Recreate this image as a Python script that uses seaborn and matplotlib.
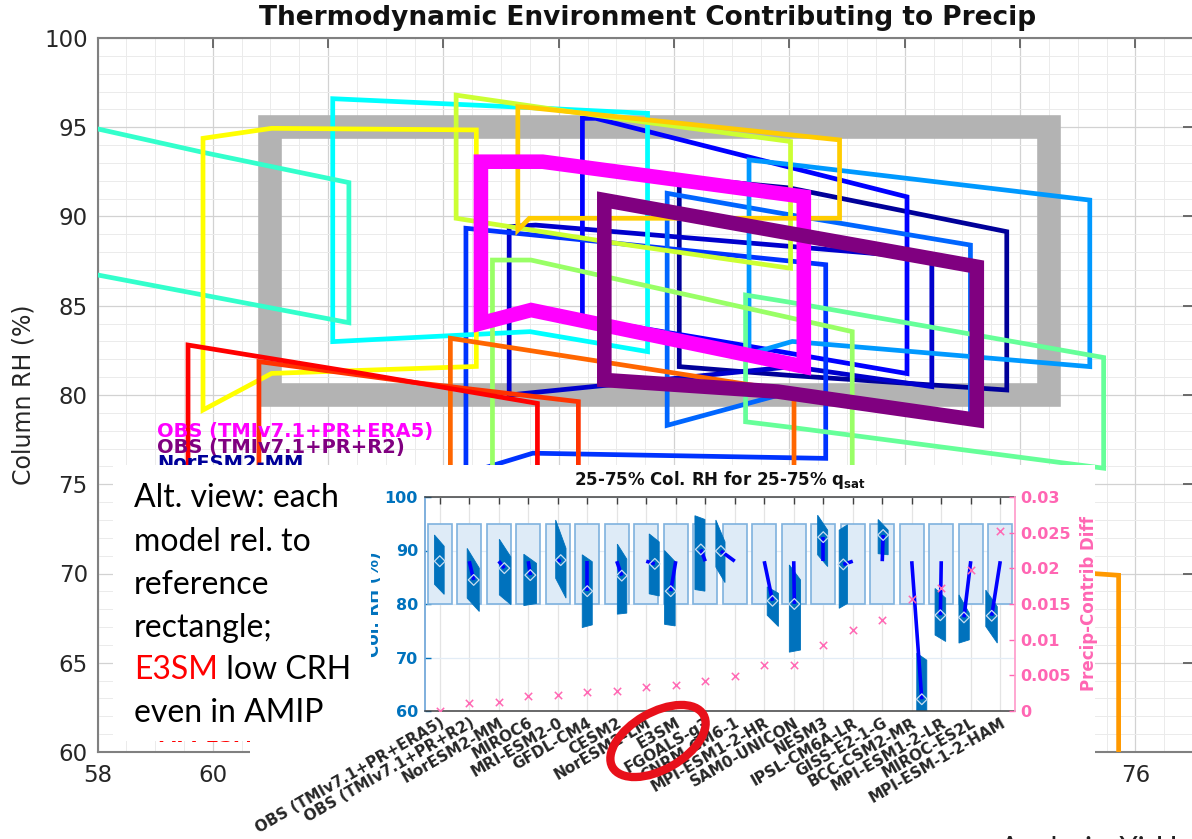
import matplotlib
matplotlib.use("Agg")
import matplotlib.pyplot as plt
import matplotlib.transforms as mtransforms
import numpy as np
import pandas as pd
import seaborn as sns
from matplotlib.patches import Rectangle, Ellipse, Polygon
from matplotlib.ticker import MultipleLocator, FixedLocator, FixedFormatter

# ---------------------------------------------------------------- names / colours
obs_names = ["OBS (TMIv7.1+PR+ERA5)", "OBS (TMIv7.1+PR+R2)"]
model_names = ["NorESM2-MM", "MIROC6", "MRI-ESM2-0", "GFDL-CM4", "CESM2",
               "NorESM2-LM", "E3SM", "FGOALS-g3", "CNRM-CM6-1", "MPI-ESM1-2-HR",
               "SAM0-UNICON", "NESM3", "IPSL-CM6A-LR", "GISS-E2-1-G",
               "BCC-CSM2-MR", "MPI-ESM1-2-LR", "MIROC-ES2L", "MPI-ESM-1-2-HAM"]
all_names = obs_names + model_names

obs_colors = [(1, 0, 1), (0.5, 0, 0.5)]
model_colors = [(0, 0, 0.6), (0, 0, 0.8), (0, 0, 1), (0, 0.2, 1), (0, 0.4, 1),
                (0, 0.6, 1), (0, 0.8, 1), (0, 1, 1), (0.2, 1, 0.8), (0.4, 1, 0.6),
                (0.6, 1, 0.4), (0.8, 1, 0.2), (1, 1, 0), (1, 0.8, 0), (1, 0.6, 0),
                (1, 0.4, 0), (1, 0.2, 0), (1, 0, 0)]
color_of = dict(zip(all_names, obs_colors + model_colors))

# legend rows that show above / below the note box
legend_rows = [0, 1, 2, 19]

# ---------------------------------------------------------------- reference rectangle
ref_q = [61.0, 74.5]      # q_sat 25-75 %
ref_rh = [80.0, 95.0]     # column RH 25-75 %

# ---------------------------------------------------------------- main-panel boxes
box_names = ["OBS (TMIv7.1+PR+ERA5)", "OBS (TMIv7.1+PR+R2)", "NorESM2-MM", "MIROC6",
             "MRI-ESM2-0", "GFDL-CM4", "CESM2", "NorESM2-LM", "FGOALS-g3",
             "CNRM-CM6-1", "MPI-ESM1-2-HR", "SAM0-UNICON", "NESM3", "IPSL-CM6A-LR",
             "GISS-E2-1-G", "BCC-CSM2-MR", "MPI-ESM1-2-LR", "MIROC-ES2L",
             "MPI-ESM-1-2-HAM"]
q_lo = [64.65, 66.79, 68.09, 65.14, 66.41, 64.39, 67.88, 69.30, 62.08, 56.90,
        69.24, 64.85, 64.22, 59.83, 65.29, 70.60, 64.12, 60.80, 59.57]
q_mid_top = [65.72, 69.80, 70.00, 65.60, 66.64, 67.00, 70.00, 70.05, 65.50, 59.82,
             70.00, 65.52, 67.00, 61.02, 65.50, 73.00, 66.36, 63.50, 62.60]
q_mid_bot = [65.52, 69.80, 70.00, 70.05, 69.00, 65.55, 70.05, 70.05, 65.50, 59.82,
             70.00, 65.52, 67.00, 61.02, 65.49, 73.00, 66.36, 63.50, 62.60]
q_hi = [70.25, 73.25, 73.77, 72.47, 72.04, 70.63, 73.14, 75.21, 67.54, 62.36,
        75.45, 71.09, 70.02, 64.57, 70.87, 75.71, 70.08, 66.34, 65.63]
rh_top_lo = [93.07, 90.92, 92.19, 89.43, 95.50, 89.34, 91.30, 93.17, 96.60, 95.70,
             85.60, 87.56, 96.80, 94.38, 96.15, 71.20, 83.18, 81.87, 82.80]
rh_top_mid = [93.07, 89.18, 91.60, 89.52, 95.50, 88.50, 90.10, 92.90, 96.10, 93.60,
              85.20, 87.56, 95.50, 94.94, 96.10, 70.50, 82.06, 80.70, 81.20]
rh_top_hi = [91.11, 87.19, 89.15, 87.66, 91.10, 87.30, 88.40, 90.92, 95.78, 91.90,
             82.10, 83.55, 94.20, 94.85, 94.29, 69.90, 80.19, 79.63, 79.53]
rh_bot_hi = [81.59, 78.60, 80.28, 80.47, 81.20, 76.45, 78.50, 81.59, 82.43, 84.05,
             75.90, 71.40, 87.10, 81.60, 89.90, 54.00, 73.00, 73.30, 72.70]
rh_bot_mid = [84.76, 80.19, 81.10, 81.59, 82.90, 76.74, 80.20, 83.00, 83.55, 85.61,
              78.20, 71.30, 88.50, 81.21, 89.90, 54.20, 73.70, 73.00, 74.30]
rh_bot_lo = [84.02, 80.84, 81.59, 80.00, 84.30, 75.60, 78.30, 82.30, 82.99, 87.40,
             78.50, 71.00, 89.90, 79.16, 89.24, 54.50, 74.20, 72.70, 75.80]

# ---------------------------------------------------------------- inset: boxes relative to the reference
q_per_slot = 16.9   # q_sat units per category slot
dx_lo = [-0.18, -0.07, 0.02, -0.15, -0.07, -0.17, 0.02, 0.10, -0.38, -0.35,
         -0.64, 0.10, -0.15, -0.19, -0.46, -0.14, 0.17, -0.21, -0.40, -0.49]
dx_hi = [0.15, 0.34, 0.41, 0.28, 0.28, 0.17, 0.34, 0.44, -0.02, -0.01,
         -0.33, 0.48, 0.23, 0.15, -0.18, 0.20, 0.51, 0.15, -0.05, -0.10]
crh_tl = [92.9, 90.4, 92.1, 89.3, 95.7, 89.2, 91.2, 93.1, 90.0, 96.5,
          95.7, 83.2, 87.3, 96.6, 93.8, 95.8, 70.8, 82.9, 81.7, 82.6]
crh_tr = [90.8, 86.7, 88.8, 87.6, 90.4, 87.9, 88.4, 91.6, 87.9, 95.8,
          91.6, 82.0, 84.5, 93.8, 94.8, 93.8, 69.5, 81.1, 78.3, 79.5]
crh_br = [81.8, 78.6, 79.9, 80.1, 81.1, 76.1, 78.3, 81.5, 75.9, 82.4,
          84.0, 75.8, 71.4, 87.0, 80.1, 89.2, 54.0, 73.0, 73.3, 72.7]
crh_bl = [83.7, 81.1, 81.7, 79.7, 84.8, 75.6, 78.1, 81.9, 76.2, 82.7,
          86.9, 77.9, 71.0, 89.2, 79.2, 89.4, 54.5, 74.2, 72.7, 75.8]
center_dx = [0.00, 0.15, 0.19, 0.07, 0.10, 0.00, 0.17, 0.29, -0.17, -0.15,
             -0.47, 0.28, 0.02, 0.00, -0.32, 0.03, 0.34, -0.03, -0.23, -0.29]
center_rh = [88.0, 84.5, 86.7, 85.4, 88.2, 82.4, 85.3, 87.5, 82.4, 90.2,
             89.9, 80.6, 80.0, 92.5, 87.4, 92.9, 62.2, 77.9, 77.5, 77.8]
precip_diff = [0.0, 0.0011, 0.0013, 0.0021, 0.0023, 0.0027, 0.0028, 0.0033,
               0.0037, 0.0042, 0.0049, 0.0064, 0.0065, 0.0092, 0.0113, 0.0127,
               0.0157, 0.0173, 0.0197, 0.0253]

# ---------------------------------------------------------------- figure
sns.set_theme(style="white")
plt.rcParams["font.family"] = ["DejaVu Sans"]

W, H = 1192, 839
fig = plt.figure(figsize=(W / 100, H / 100), dpi=100)
px = mtransforms.Affine2D().scale(1 / W, -1 / H).translate(0, 1) + fig.transFigure


def frame(x0, y0, x1, y1):
    return [x0 / W, 1 - y1 / H, (x1 - x0) / W, (y1 - y0) / H]


# ================================================================ main panel
ax = fig.add_axes(frame(97.5, 38, 1193, 752), zorder=0)
ax.set_xlim(58, 77)
ax.set_ylim(60, 100)
ax.xaxis.set_major_locator(MultipleLocator(2))
ax.xaxis.set_minor_locator(MultipleLocator(0.5))
ax.yaxis.set_major_locator(MultipleLocator(5))
ax.yaxis.set_minor_locator(MultipleLocator(1))
ax.grid(which="major", color="#d2d2d2", lw=0.9)
ax.grid(which="minor", color="#ebebeb", lw=0.7)
ax.set_axisbelow(True)
ax.tick_params(which="both", direction="in", top=True, right=True,
               color="#606060", labelcolor="#262626")
ax.tick_params(which="major", length=7, width=1.3, labelsize=16.5)
ax.tick_params(which="minor", length=0)
ax.tick_params(axis="x", pad=9)
ax.tick_params(axis="y", pad=7)
for s in ax.spines.values():
    s.set_color("#808080")
    s.set_linewidth(1.5)
# x labels that sit under the inset panel are left out
fig.canvas.draw()
for tick_val, lbl in zip(ax.get_xticks(), ax.get_xticklabels()):
    if 61 < tick_val < 75:
        lbl.set_visible(False)

# reference rectangle
ax.add_patch(Rectangle((ref_q[0], ref_rh[0]), ref_q[1] - ref_q[0], ref_rh[1] - ref_rh[0],
                       fill=False, ec="#b3b3b3", lw=17, joinstyle="miter", zorder=2))

# model / obs boxes
for k, name in enumerate(box_names):
    verts = [(q_lo[k], rh_bot_lo[k]), (q_lo[k], rh_top_lo[k]),
             (q_mid_top[k], rh_top_mid[k]), (q_hi[k], rh_top_hi[k]),
             (q_hi[k], rh_bot_hi[k]), (q_mid_bot[k], rh_bot_mid[k])]
    is_obs = name in obs_names
    ax.add_patch(Polygon(verts, closed=True, fill=False, ec=color_of[name],
                         lw=10.5 if is_obs else 3.4, joinstyle="miter",
                         zorder=4 if is_obs else 3))

# coloured legend text
for k in legend_rows:
    name = all_names[k]
    ax.text(157, 431 + 16.1 * k, name, transform=px, color=color_of[name],
            fontsize=14, fontweight="bold", va="center", ha="left", zorder=6)

fig.text(648, 18, "Thermodynamic Environment Contributing to Precip", transform=px,
         ha="center", va="center", fontsize=19, fontweight="bold", color="#111111")
fig.text(24, 395, "Column RH (%)", transform=px, rotation=90, ha="center",
         va="center", fontsize=17, color="#262626")

# ================================================================ white panel behind the inset
ov_bg = fig.add_axes([0, 0, 1, 1], zorder=1)
ov_bg.set_xlim(0, W)
ov_bg.set_ylim(H, 0)
ov_bg.axis("off")
ov_bg.add_patch(Rectangle((250, 465), 845, 380, fc="white", ec="none"))

# ================================================================ inset
cats = np.arange(1, len(all_names) + 1)
axi = fig.add_axes(frame(425, 497, 1015, 711), zorder=2)
axi.set_xlim(0.5, len(all_names) + 0.5)
axi.set_ylim(60, 100)
axi.set_yticks([60, 70, 80, 90, 100])
axi.set_xticks(cats)
axi.set_xticklabels(all_names, rotation=30, ha="right", rotation_mode="anchor",
                    fontsize=11, fontweight="bold", color="#262626")
axi.grid(axis="x", color="#e4e4e4", lw=0.9)
axi.grid(axis="y", color="#e2ecf6", lw=0.9)
axi.set_axisbelow(True)
axi.tick_params(axis="x", direction="in", top=True, length=5, width=1.0,
                color="#404040", pad=3)
axi.tick_params(axis="y", direction="in", length=4, width=1.0, color="#0072BD",
                labelcolor="#0072BD", labelsize=11.5, pad=5)
for lbl in axi.get_yticklabels():
    lbl.set_fontweight("bold")
axi.spines["left"].set_color("#6fa6d8")
axi.spines["right"].set_visible(False)
for side in ("top", "bottom"):
    axi.spines[side].set_color("#404040")
    axi.spines[side].set_linewidth(1.1)
axi.set_ylabel("Col. RH (%)", color="#0072BD", fontsize=12, fontweight="bold",
               labelpad=1)

half_slot = (ref_q[1] - ref_q[0]) / 2 / q_per_slot
for i in cats:
    axi.add_patch(Rectangle((i - half_slot, ref_rh[0]), 2 * half_slot,
                            ref_rh[1] - ref_rh[0], fc="#deebf7", ec="#7fb2de",
                            lw=1.2, zorder=1))
for k, i in enumerate(cats):
    verts = [(i + dx_lo[k], crh_bl[k]), (i + dx_lo[k], crh_tl[k]),
             (i + dx_hi[k], crh_tr[k]), (i + dx_hi[k], crh_br[k])]
    axi.add_patch(Polygon(verts, closed=True, fc="#0072BD", ec="#0072BD",
                          lw=0.6, zorder=2))
    if k > 0:
        axi.plot([i + center_dx[0], i + center_dx[k]], [center_rh[0], center_rh[k]],
                 color="blue", lw=2.6, solid_capstyle="butt", zorder=3)

centers = pd.DataFrame({"x": cats + np.array(center_dx), "rh": center_rh})
sns.scatterplot(data=centers, x="x", y="rh", ax=axi, marker="D", s=30,
                color="#0072BD", edgecolor="#c9def1", linewidth=0.9, zorder=4,
                legend=False)
axi.collections[-1].set_facecolor("none")
axi.set_xlabel("")

ax2 = axi.twinx()
ax2.set_zorder(2.2)
ax2.set_ylim(0, 0.03)
ax2.yaxis.set_major_locator(FixedLocator([0, 0.005, 0.01, 0.015, 0.02, 0.025, 0.03]))
ax2.yaxis.set_major_formatter(FixedFormatter(["0", "0.005", "0.01", "0.015", "0.02",
                                              "0.025", "0.03"]))
ax2.tick_params(axis="y", direction="in", length=4, width=1.0, color="#ff66b3",
                labelcolor="#ff66b3", labelsize=11.5, pad=4)
for lbl in ax2.get_yticklabels():
    lbl.set_fontweight("bold")
for side in ("left", "top", "bottom"):
    ax2.spines[side].set_visible(False)
ax2.spines["right"].set_color("#ff9ccc")
ax2.set_ylabel("Precip-Contrib Diff", color="#ff66b3", fontsize=12,
               fontweight="bold", labelpad=6)
diff_df = pd.DataFrame({"x": cats, "diff": precip_diff})
sns.scatterplot(data=diff_df, x="x", y="diff", ax=ax2, marker="x", s=28,
                color="#ff69b4", linewidth=1.1, legend=False, zorder=5)
ax2.set_xlabel("")

fig.text(720, 480, r"25-75% Col. RH for 25-75% q$_{\mathbf{sat}}$", transform=px,
         ha="center", va="center", fontsize=12, fontweight="bold", color="#111111",
         zorder=5)

# ================================================================ text box, highlight, credit
ov = fig.add_axes([0, 0, 1, 1], zorder=3)
ov.set_xlim(0, W)
ov.set_ylim(H, 0)
ov.axis("off")
ov.add_patch(Rectangle((113, 465), 258, 276, fc="white", ec="none"))

note_font = dict(family=["Lato", "DejaVu Sans"], fontsize=23, va="center", ha="left")
note_lines = ["Alt. view: each", "model rel. to", "reference", "rectangle;"]
note_y = [498, 542, 585, 628, 670, 713]
for yy, line in zip(note_y, note_lines):
    ov.text(134, yy, line, color="black", **note_font)
red = ov.text(134, note_y[4], "E3SM", color="#ff0000", **note_font)
ov.annotate(" low CRH", xy=(1, 0.5), xycoords=red, color="black",
            **{k: v for k, v in note_font.items() if k != "ha"}, ha="left")
ov.text(134, note_y[5], "even in AMIP", color="black", **note_font)

ov.add_patch(Ellipse((658, 741), 105, 57, angle=-30, fill=False, ec="#e8101a", lw=6))

ov.text(1000, 836, "Analysis: Yi-Hung Kuo", family=["Lato", "DejaVu Sans"],
        fontsize=21, va="top", ha="left", color="#222222")

fig.savefig("out.png", dpi=100)
